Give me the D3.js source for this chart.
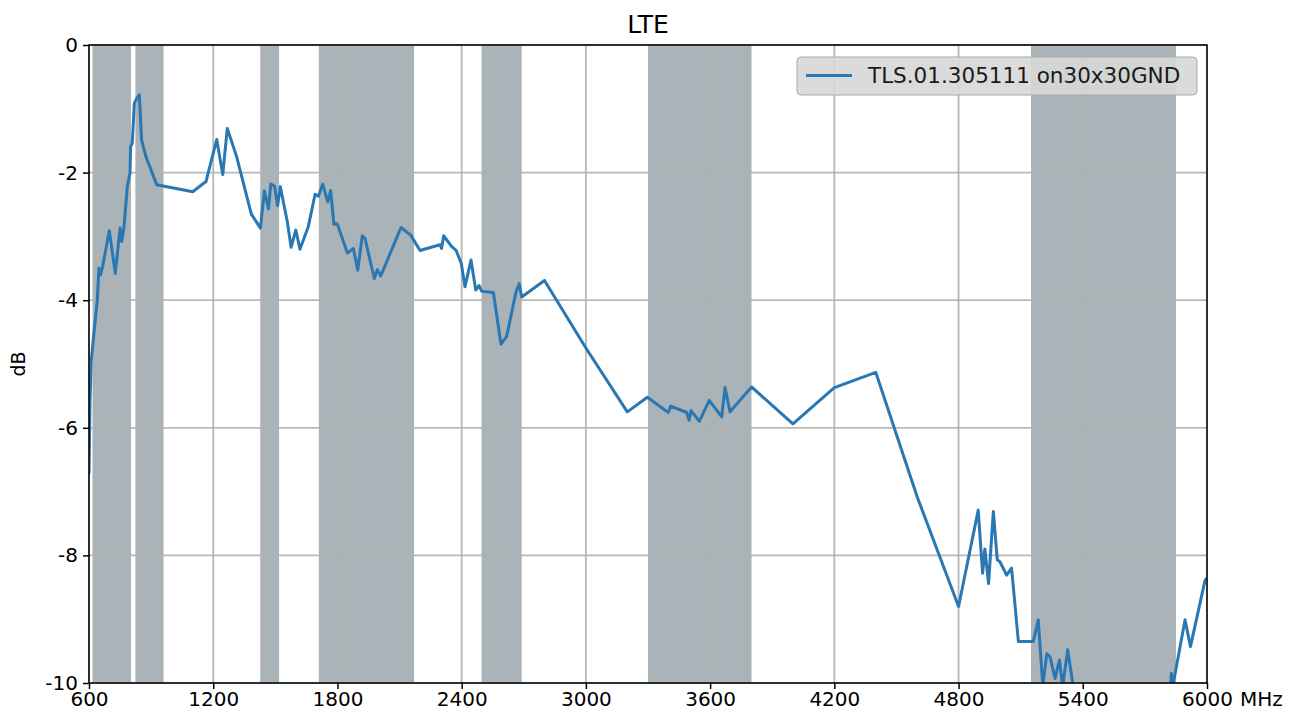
<!DOCTYPE html>
<html>
<head>
<meta charset="utf-8">
<script src="https://cdn.jsdelivr.net/npm/d3@7"></script>
<style>
  body { margin: 0; background: #fff; }
  text { font-family: "DejaVu Sans", sans-serif; }
</style>
</head>
<body>
<svg width="1302" height="720"></svg>
<script>
  // frequency (MHz) and gain (dB) of the measured curve
  const freq = [600, 605, 611, 624, 640, 648, 656, 666, 698, 727, 750, 758, 769, 785, 798, 801, 809, 819, 830, 843,
    854, 875, 927, 1101, 1165, 1217, 1246, 1268, 1313, 1384, 1428, 1447, 1467, 1478, 1496, 1511, 1524, 1558, 1576, 1599,
    1619, 1659, 1692, 1708, 1729, 1753, 1767, 1783, 1799, 1848, 1877, 1898, 1920, 1933, 1978, 1993, 2009, 2107, 2154, 2199,
    2295, 2303, 2313, 2352, 2373, 2398, 2416, 2445, 2468, 2484, 2497, 2553, 2590, 2617, 2662, 2678, 2690, 2800, 3000, 3200,
    3297, 3398, 3410, 3487, 3498, 3508, 3548, 3596, 3656, 3672, 3696, 3800, 4000, 4200, 4400, 4600, 4800, 4895, 4916, 4927,
    4945, 4968, 4987, 5000, 5032, 5056, 5089, 5161, 5185, 5207, 5226, 5242, 5266, 5287, 5303, 5327, 5370, 5500, 5700, 5822,
    5828, 5832, 5894, 5920, 5990, 6000];
  const gain = [-6.72, -5.56, -4.94, -4.51, -4.0, -3.5, -3.6, -3.47, -2.91, -3.58, -2.87, -3.08, -2.85, -2.22, -2.01, -1.59, -1.54, -0.91, -0.84, -0.78,
    -1.49, -1.75, -2.19, -2.30, -2.14, -1.48, -2.03, -1.31, -1.75, -2.65, -2.87, -2.29, -2.57, -2.18, -2.21, -2.52, -2.22, -2.77, -3.17, -2.90,
    -3.20, -2.85, -2.34, -2.37, -2.18, -2.46, -2.28, -2.81, -2.80, -3.26, -3.19, -3.53, -2.99, -3.03, -3.66, -3.52, -3.62, -2.86, -2.98, -3.22,
    -3.13, -3.19, -2.99, -3.16, -3.22, -3.42, -3.79, -3.37, -3.84, -3.77, -3.86, -3.88, -4.69, -4.57, -3.88, -3.74, -3.95, -3.69, -4.75, -5.75,
    -5.52, -5.76, -5.66, -5.76, -5.88, -5.73, -5.90, -5.57, -5.83, -5.37, -5.75, -5.36, -5.94, -5.37, -5.13, -7.08, -8.80, -7.29, -8.28, -7.90,
    -8.44, -7.31, -8.07, -8.10, -8.31, -8.20, -9.35, -9.35, -9.01, -10.05, -9.54, -9.59, -9.93, -9.64, -10.05, -9.48, -10.4, -11.0, -11.0, -10.2,
    -9.85, -10.1, -9.01, -9.43, -8.40, -8.35];

  // shaded LTE bands (MHz)
  const bandStart = [617, 824, 1427, 1710, 2496, 3300, 5150];
  const bandEnd = [803, 960, 1518, 2170, 2690, 3800, 5850];

  const xTicks = [600, 1200, 1800, 2400, 3000, 3600, 4200, 4800, 5400, 6000];
  const yTicks = [0, -2, -4, -6, -8, -10];

  const titleText = 'LTE';
  const yAxisLabelText = 'dB';
  const xUnitText = 'MHz';
  const seriesName = 'TLS.01.305111 on30x30GND';

  const svg = d3.select('svg');
  const margin = { top: 45, right: 95, bottom: 37, left: 89 };
  const innerWidth = +svg.attr('width') - margin.left - margin.right;
  const innerHeight = +svg.attr('height') - margin.top - margin.bottom;
  const tickFont = 20;

  const xScale = d3.scaleLinear().domain([600, 6000]).range([0, innerWidth]);
  const yScale = d3.scaleLinear().domain([-10, 0]).range([innerHeight, 0]);

  const g = svg.append('g')
    .attr('transform', `translate(${margin.left},${margin.top})`);

  g.append('clipPath').attr('id', 'plot-clip')
    .append('rect').attr('width', innerWidth).attr('height', innerHeight);

  // bands
  g.selectAll('rect.band').data(bandStart)
    .enter().append('rect')
      .attr('class', 'band')
      .attr('x', d => xScale(d))
      .attr('width', (d, i) => xScale(bandEnd[i]) - xScale(d))
      .attr('y', 0)
      .attr('height', innerHeight)
      .attr('fill', '#a9b3b8');

  // grid
  g.append('g').selectAll('line').data(xTicks)
    .enter().append('line')
      .attr('x1', d => xScale(d)).attr('x2', d => xScale(d))
      .attr('y1', 0).attr('y2', innerHeight)
      .attr('stroke', '#b0b0b0').attr('stroke-opacity', 0.9).attr('stroke-width', 1.8);
  g.append('g').selectAll('line').data(yTicks)
    .enter().append('line')
      .attr('x1', 0).attr('x2', innerWidth)
      .attr('y1', d => yScale(d)).attr('y2', d => yScale(d))
      .attr('stroke', '#b0b0b0').attr('stroke-opacity', 0.9).attr('stroke-width', 1.8);

  // axes
  const xAxisG = g.append('g')
    .attr('transform', `translate(0,${innerHeight})`)
    .call(d3.axisBottom(xScale).tickValues(xTicks).tickSize(6).tickPadding(3)
      .tickFormat(d => d));
  const yAxisG = g.append('g')
    .call(d3.axisLeft(yScale).tickValues(yTicks).tickSize(6).tickPadding(5)
      .tickFormat(d => d));

  [xAxisG, yAxisG].forEach(a => {
    a.attr('font-size', tickFont).attr('font-family', '"DejaVu Sans", sans-serif');
    a.select('.domain').remove();
    a.selectAll('.tick line').attr('stroke', '#000').attr('stroke-width', 1.5);
    a.selectAll('.tick text').attr('fill', '#000');
  });

  xAxisG.append('text')
    .attr('x', innerWidth + 33)
    .attr('y', 9)
    .attr('dy', '0.71em')
    .attr('fill', '#000')
    .attr('text-anchor', 'start')
    .text(xUnitText);

  // curve
  const points = freq.map((f, i) => [f, gain[i]]);
  const line = d3.line()
    .x(d => xScale(d[0]))
    .y(d => yScale(d[1]));

  g.append('path')
    .datum(points)
    .attr('clip-path', 'url(#plot-clip)')
    .attr('d', line)
    .attr('fill', 'none')
    .attr('stroke', '#2a78b3')
    .attr('stroke-width', 3)
    .attr('stroke-linejoin', 'round');

  // frame
  g.append('rect')
    .attr('width', innerWidth).attr('height', innerHeight)
    .attr('fill', 'none').attr('stroke', '#000').attr('stroke-width', 1.5);

  // legend
  const legend = g.append('g')
    .attr('transform', 'translate(708,12)');
  legend.append('rect')
    .attr('width', 400).attr('height', 38)
    .attr('rx', 4)
    .attr('fill', '#d7d7d7').attr('fill-opacity', 0.9)
    .attr('stroke', '#a8a8a8').attr('stroke-width', 1);
  legend.append('line')
    .attr('x1', 9).attr('x2', 55)
    .attr('y1', 18.5).attr('y2', 18.5)
    .attr('stroke', '#2a78b3').attr('stroke-width', 3);
  legend.append('text')
    .attr('x', 71).attr('y', 26)
    .attr('font-size', 21.5)
    .attr('fill', '#1a1a1a')
    .text(seriesName);

  svg.append('text')
    .attr('x', margin.left + innerWidth / 2)
    .attr('y', 33)
    .attr('text-anchor', 'middle')
    .attr('font-size', 25)
    .text(titleText);

  svg.append('text')
    .attr('transform', `translate(25,${margin.top + innerHeight / 2}) rotate(-90)`)
    .attr('text-anchor', 'middle')
    .attr('font-size', 19)
    .text(yAxisLabelText);
</script>
</body>
</html>
